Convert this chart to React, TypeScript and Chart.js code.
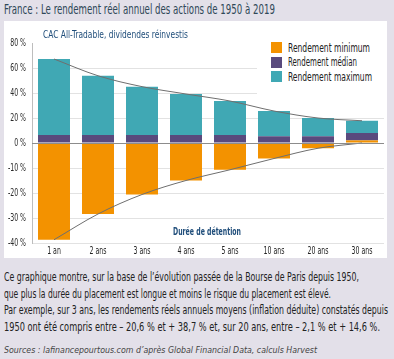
import React, { useEffect, useLayoutEffect, useRef } from "react";
import { Chart, registerables } from "chart.js";

Chart.register(...registerables);

// ---- data ----
const categories = ["1 an", "2 ans", "3 ans", "4 ans", "5 ans", "10 ans", "20 ans", "30 ans"];
const minimum = [-38.7, -28.4, -20.6, -15.0, -10.7, -6.2, -2.1, 2.1];
const median = [6.4, 6.4, 6.4, 6.4, 6.4, 5.4, 5.4, 5.9];
const maximum = [60.8, 47.4, 38.7, 32.8, 27.2, 20.2, 14.6, 9.8];
const yTickValues = [80, 60, 40, 20, 0, -10, -20, -30, -40];
const seriesLabels = ["Rendement minimum", "Rendement médian", "Rendement maximum"];
const seriesColors = ["#f39200", "#594a7d", "#40a8b4"];

const titleText = "France : Le rendement réel annuel des actions de 1950 à 2019";
const subtitleText = "CAC All-Tradable, dividendes réinvestis";
const axisTitleText = "Durée de détention";
const paragraphLines = [
  "Ce graphique montre, sur la base de l’évolution passée de la Bourse de Paris depuis 1950,",
  "que plus la durée du placement est longue et moins le risque du placement est élevé.",
  "Par exemple, sur 3 ans, les rendements réels annuels moyens (inflation déduite) constatés depuis",
  "1950 ont été compris entre – 20,6 % et + 38,7 % et, sur 20 ans, entre – 2,1 % et + 14,6 %.",
];
const sourcesText = "Sources : lafinancepourtous.com d’après Global Financial Data, calculs Harvest";

const FONT = "'Liberation Sans Narrow', 'DejaVu Sans Condensed', 'Roboto', sans-serif";

// axis is drawn with the negative half stretched twice (as in the original)
const toAxis = (v: number) => (v < 0 ? v * 2 : v);
const fromAxis = (v: number) => (v < 0 ? v / 2 : v);

type FitProps = {
  x: number;
  y: number;
  width: number;
  size: number;
  color: string;
  italic?: boolean;
  weight?: number | string;
  children: React.ReactNode;
};

function FitText({ x, y, width, size, color, italic, weight, children }: FitProps) {
  const ref = useRef<HTMLSpanElement>(null);
  useLayoutEffect(() => {
    const el = ref.current;
    if (!el) return;
    el.style.transform = "none";
    const w = el.getBoundingClientRect().width;
    if (w > 0) el.style.transform = `scaleX(${width / w})`;
  }, [width]);
  return (
    <span
      ref={ref}
      style={{
        position: "absolute",
        left: x,
        top: y - size * 0.48,
        whiteSpace: "nowrap",
        fontSize: size,
        lineHeight: 1,
        color,
        fontStyle: italic ? "italic" : "normal",
        fontWeight: weight ?? 400,
        transformOrigin: "0 0",
        fontFamily: FONT,
        display: "inline-block",
      }}
    >
      {children}
    </span>
  );
}

function ChartCanvas() {
  const ref = useRef<HTMLCanvasElement>(null);
  useEffect(() => {
    const canvas = ref.current;
    if (!canvas) return;
    const upper = categories.map((_, i) => (minimum[i] > 0 ? minimum[i] : 0) + median[i] + maximum[i]);
    const lower = minimum.map((m) => toAxis(Math.min(m, 0)));

    const zeroLine = {
      id: "zeroLine",
      afterDatasetsDraw(chart: any) {
        const { ctx, chartArea, scales } = chart;
        const y = Math.round(scales.y.getPixelForValue(0)) + 0.5;
        ctx.save();
        ctx.strokeStyle = "#8c8c8c";
        ctx.lineWidth = 1;
        ctx.beginPath();
        ctx.moveTo(chartArea.left, y);
        ctx.lineTo(chartArea.right, y);
        ctx.stroke();
        ctx.restore();
      },
    };

    // condensed tick labels (the original uses a very narrow typeface)
    const narrowTicks = {
      id: "narrowTicks",
      afterDraw(chart: any) {
        const { ctx, chartArea, scales } = chart;
        const sx = 0.66;
        ctx.save();
        ctx.font = `10.5px ${FONT}`;
        ctx.textBaseline = "middle";
        ctx.fillStyle = "#2a2a2a";
        ctx.textAlign = "right";
        scales.y.ticks.forEach((t: any) => {
          const y = scales.y.getPixelForValue(t.value);
          ctx.save();
          ctx.translate(chartArea.left - 6, y);
          ctx.scale(sx, 1);
          ctx.fillText(`${fromAxis(t.value)} %`, 0, 0);
          ctx.restore();
        });
        ctx.fillStyle = "#222";
        ctx.textAlign = "center";
        categories.forEach((c, i) => {
          const x = scales.x.getPixelForTick(i);
          ctx.save();
          ctx.translate(x, chartArea.bottom + 8);
          ctx.scale(sx, 1);
          ctx.fillText(c, 0, 0);
          ctx.restore();
        });
        ctx.restore();
      },
    };

    const chart = new Chart(canvas, {
      type: "bar",
      data: {
        labels: categories,
        datasets: [
          {
            type: "line",
            label: "upper",
            data: upper,
            borderColor: "#6f6f6f",
            borderWidth: 1,
            pointRadius: 0,
            cubicInterpolationMode: "monotone",
            stack: "upper",
            order: 0,
          } as any,
          {
            type: "line",
            label: "lower",
            data: lower,
            borderColor: "#6f6f6f",
            borderWidth: 1,
            pointRadius: 0,
            cubicInterpolationMode: "monotone",
            stack: "lower",
            order: 0,
          } as any,
          {
            label: seriesLabels[0],
            data: minimum.map(toAxis),
            backgroundColor: seriesColors[0],
            stack: "bars",
            order: 1,
            barPercentage: 0.727,
            categoryPercentage: 1,
          },
          {
            label: seriesLabels[1],
            data: median.map(toAxis),
            backgroundColor: seriesColors[1],
            stack: "bars",
            order: 1,
            barPercentage: 0.727,
            categoryPercentage: 1,
          },
          {
            label: seriesLabels[2],
            data: maximum.map(toAxis),
            backgroundColor: seriesColors[2],
            stack: "bars",
            order: 1,
            barPercentage: 0.727,
            categoryPercentage: 1,
          },
        ],
      },
      options: {
        responsive: false,
        animation: false,
        devicePixelRatio: 1,
        layout: { padding: { top: 22, right: 3, left: 0, bottom: 0 } },
        plugins: {
          legend: { display: false },
          tooltip: { enabled: false },
          title: { display: false },
        },
        scales: {
          x: {
            stacked: true,
            grid: { display: false, drawTicks: false },
            border: { display: false },
            ticks: { display: false, autoSkip: false, maxRotation: 0 },
            afterFit: (s: any) => {
              s.height = 15;
            },
          },
          y: {
            stacked: true,
            min: -80,
            max: 80,
            afterBuildTicks: (s: any) => {
              s.ticks = yTickValues.map((v) => ({ value: toAxis(v) }));
            },
            ticks: { display: false },
            grid: {
              drawTicks: false,
              color: (c: any) => {
                const v = c.tick ? c.tick.value : 0;
                if (v === 80 || v === 0) return "rgba(0,0,0,0)";
                return "#e2e2e2";
              },
            },
            border: { display: true, color: "#bdbdbd" },
            afterFit: (s: any) => {
              s.width = 28;
            },
          },
        },
      },
      plugins: [zeroLine, narrowTicks],
    });
    return () => chart.destroy();
  }, []);
  return <canvas ref={ref} width={383} height={237} style={{ position: "absolute", left: 0, top: 0, width: 383, height: 237 }} />;
}

export default function App() {
  const legendRows = [47.5, 62, 76.5];
  const legendWidths = [82, 69, 84];
  return (
    <div
      style={{
        position: "fixed",
        left: 0,
        top: 0,
        width: 394,
        height: 359,
        background: "#e3e0e9",
        overflow: "hidden",
        fontFamily: FONT,
      }}
    >
      <FitText x={4} y={9} width={271} size={13.5} color="#2f4858">
        {titleText}
      </FitText>
      <div style={{ position: "absolute", left: 4, top: 21, width: 383, height: 237, background: "#ffffff" }}>
        <ChartCanvas />
      </div>
      <FitText x={43} y={34.2} width={145} size={10.5} color="#1f4d7a">
        {subtitleText}
      </FitText>
      <div style={{ position: "absolute", left: 257, top: 36, width: 128, height: 64, background: "#ffffff" }} />
      {seriesLabels.map((lab, i) => (
        <React.Fragment key={lab}>
          <div
            style={{
              position: "absolute",
              left: 271,
              top: legendRows[i] - 5.5,
              width: 11,
              height: 11,
              background: seriesColors[i],
            }}
          />
          <FitText x={288} y={legendRows[i]} width={legendWidths[i]} size={12} color="#222">
            {lab}
          </FitText>
        </React.Fragment>
      ))}
      <FitText x={173} y={231} width={68} size={10.5} color="#1f4d7a" weight={600}>
        {axisTitleText}
      </FitText>
      {paragraphLines.map((line, i) => (
        <FitText key={i} x={4} y={277 + i * 16.5} width={[355, 327, 384, 376][i]} size={12} color="#222">
          {line}
        </FitText>
      ))}
      <FitText x={4} y={350} width={313} size={9.5} color="#444" italic>
        {sourcesText}
      </FitText>
    </div>
  );
}
